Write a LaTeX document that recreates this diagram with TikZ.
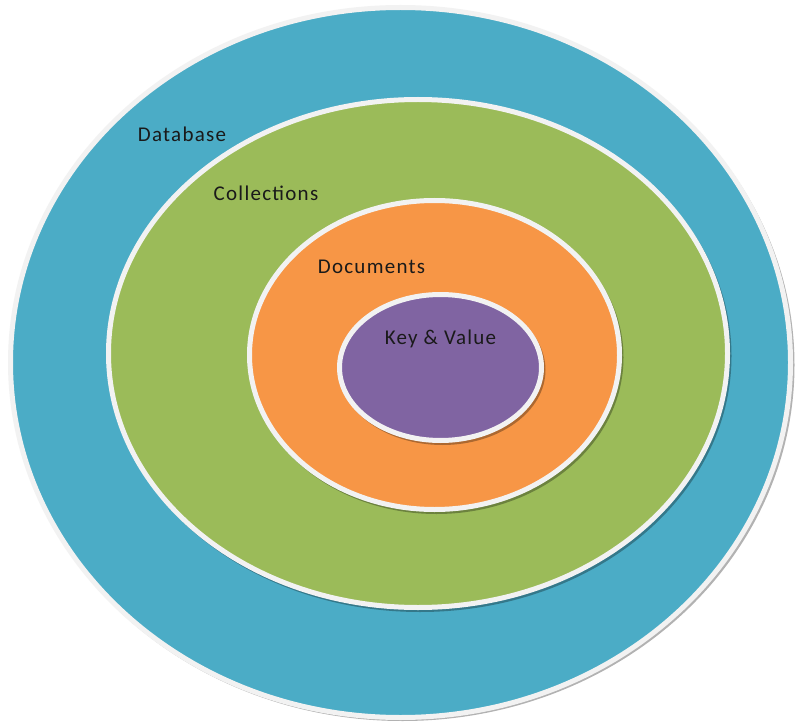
\documentclass[tikz,border=0pt]{standalone}
\usepackage{fontspec}
\setmainfont{Carlito}[LetterSpace=6]
\usetikzlibrary{shapes.geometric}
\definecolor{dbblue}{HTML}{4BACC6}
\definecolor{colgreen}{HTML}{9BBB59}
\definecolor{docorange}{HTML}{F79646}
\definecolor{kvpurple}{HTML}{8064A2}
\definecolor{ringwhite}{HTML}{F2F2F2}
\definecolor{labeltext}{HTML}{1A1A1A}
\tikzset{
  ring/.style={ellipse, inner sep=0pt, draw=ringwhite, line width=5pt},
  ringshadow/.style={ellipse, inner sep=0pt, fill=black, fill opacity=0.3, draw=none},
  lbl/.style={anchor=base, inner sep=0pt, text=labeltext, font=\fontsize{21}{24}\selectfont}
}
\begin{document}
\begin{tikzpicture}[x=1pt, y=-1pt]
\useasboundingbox[fill=white] (0,0) rectangle (795,722);
% outer: database
\node[ringshadow, minimum width=784pt, minimum height=712pt] (dbs) at (402.5,365) {};
\node[ring, fill=dbblue, minimum width=780pt, minimum height=710pt] (db) at (400.5,362.5) {};
% collections
\node[ringshadow, minimum width=623pt, minimum height=512pt] (cols) at (420,356) {};
\node[ring, fill=colgreen, minimum width=619pt, minimum height=508pt] (col) at (418,353.5) {};
% documents
\node[ringshadow, minimum width=374pt, minimum height=313pt] (docs) at (436.5,357.5) {};
\node[ring, fill=docorange, minimum width=370pt, minimum height=309pt] (doc) at (434.5,355) {};
% key & value
\node[ringshadow, minimum width=206pt, minimum height=150pt] (kvs) at (442.5,370) {};
\node[ring, fill=kvpurple, minimum width=202pt, minimum height=146pt] (kv) at (440.5,367.5) {};
% labels
\node[lbl] (dblabel) at (182,142) {Database};
\node[lbl] (collabel) at (266,200.5) {Collections};
\node[lbl] (doclabel) at (371.5,273) {Documents};
\node[lbl] (kvlabel) at (440.5,344) {Key \& Value};
\end{tikzpicture}
\end{document}
